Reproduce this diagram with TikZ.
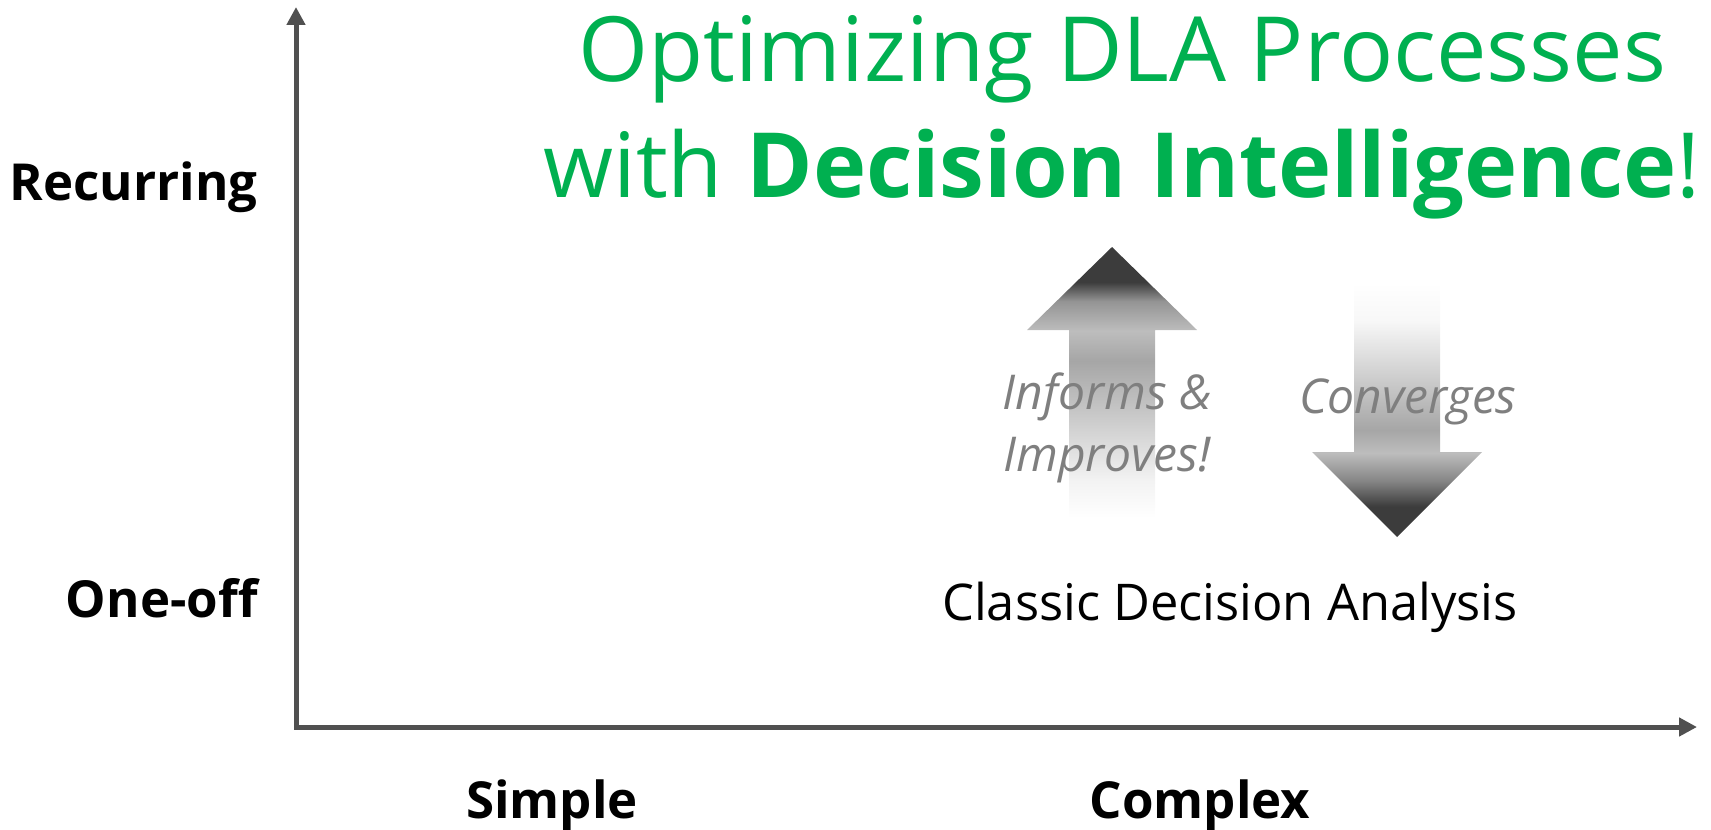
\documentclass[tikz,border=0pt]{standalone}
\usepackage{fontspec}
\setmainfont{Open Sans}
\usetikzlibrary{arrows.meta}
\definecolor{titlegreen}{HTML}{00B050}
\definecolor{axisgray}{HTML}{505050}
\definecolor{textgray}{HTML}{7F7F7F}
\definecolor{darkshade}{HTML}{3C3C3C}
\definecolor{midshade}{HTML}{A6A6A6}
\definecolor{lightshade}{HTML}{BDBDBD}
% fades of the two big arrows (bbox = 25bp..75bp)
\pgfdeclareverticalshading{upfade}{100bp}{color(0bp)=(white); color(25bp)=(white);
  color(32bp)=(white!95!black); color(54bp)=(midshade); color(59.5bp)=(lightshade);
  color(65bp)=(white!58!black); color(68.5bp)=(darkshade); color(100bp)=(darkshade)}
\pgfdeclareverticalshading{downfade}{100bp}{color(0bp)=(darkshade); color(31bp)=(darkshade);
  color(36bp)=(white!52!black); color(41.5bp)=(lightshade); color(46bp)=(midshade);
  color(60bp)=(white!86!black); color(67.5bp)=(white!97!black); color(75bp)=(white); color(100bp)=(white)}
\begin{document}
\begin{tikzpicture}[x=0.5pt, y=-0.5pt,
    axis/.style={draw=axisgray, line width=2.5pt, line join=miter},
    label/.style={inner sep=0pt, font=\bfseries\fontsize{25.5}{30}\selectfont},
    note/.style={font=\itshape\fontsize{24}{31}\selectfont, text=textgray, align=center}]
  \useasboundingbox (0,0) rectangle (1711,829);
  \coordinate (o) at (296,727);
  \coordinate (ytip) at (296,7);
  \coordinate (xtip) at (1697,727);
  \draw[axis, {Triangle[length=9pt,width=9pt]}-{Triangle[length=9pt,width=9pt]}] (ytip) -- (o) -- (xtip);
  % big arrows
  \shade[shading=upfade] (1112,247) -- (1197,330) -- (1155,330) -- (1155,518)
    -- (1069,518) -- (1069,330) -- (1027,330) -- cycle;
  \shade[shading=downfade] (1397,537) -- (1312,452) -- (1354,452) -- (1354,283)
    -- (1440,283) -- (1440,452) -- (1482,452) -- cycle;
  % axis labels
  \node[label, anchor=base east] (recurring) at (258,200) {Recurring};
  \node[label, anchor=base east] (oneoff) at (258,617) {One-off};
  \node[label, anchor=base] (simple) at (552,818) {Simple};
  \node[label, anchor=base] (complex) at (1200,818) {Complex};
  % title
  \node[anchor=base, text=titlegreen, font=\fontsize{45}{50}\selectfont] (title1) at (1122,82) {Optimizing DLA Processes};
  \node[anchor=base, text=titlegreen, font=\fontsize{45}{50}\selectfont] (title2) at (1122,197) {with \textbf{Decision Intelligence}!};
  \node[anchor=base, font=\fontsize{25.3}{30}\selectfont] (classic) at (1230,620) {Classic Decision Analysis};
  \node[note, anchor=base] (informs) at (1107,471) {Informs \&\\Improves!};
  \node[note, anchor=base] (converges) at (1408,413) {Converges};
\end{tikzpicture}
\end{document}
